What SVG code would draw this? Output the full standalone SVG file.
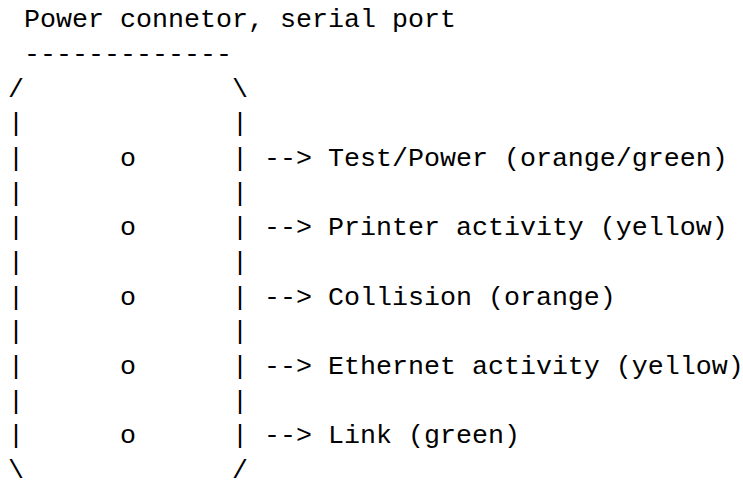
<svg xmlns="http://www.w3.org/2000/svg" width="743" height="503" viewBox="0 0 743 503" xml:space="preserve">
<style>
text { font-family: "Liberation Mono", "Courier New", monospace; font-size: 26.67px; fill: #000; white-space: pre; }
</style>
<rect width="743" height="503" fill="#fff"/>
<g id="header">
<text x="8" y="27.3"> Power connetor, serial port</text>
<text x="8" y="62"> -------------</text>
</g>
<g id="connector-box">
<text x="8" y="96.6">/             \</text>
<text x="8" y="131.3">|             |</text>
<text x="8" y="200.6">|             |</text>
<text x="8" y="270">|             |</text>
<text x="8" y="339.3">|             |</text>
<text x="8" y="408.7">|             |</text>
<text x="8" y="478">\             /</text>
</g>
<g id="led-test-power">
<text x="8" y="166">|      o      | --&gt; Test/Power (orange/green)</text>
</g>
<g id="led-printer">
<text x="8" y="235.3">|      o      | --&gt; Printer activity (yellow)</text>
</g>
<g id="led-collision">
<text x="8" y="304.7">|      o      | --&gt; Collision (orange)</text>
</g>
<g id="led-ethernet">
<text x="8" y="374">|      o      | --&gt; Ethernet activity (yellow)</text>
</g>
<g id="led-link">
<text x="8" y="443.3">|      o      | --&gt; Link (green)</text>
</g>
<g id="connectors"></g>
</svg>
